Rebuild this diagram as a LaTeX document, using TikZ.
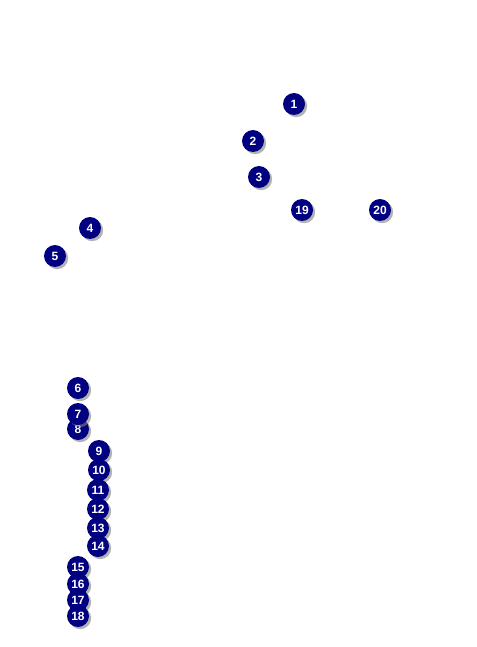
\documentclass[tikz,border=0pt]{standalone}
\usepackage{fontspec}
\setmainfont{Liberation Sans}
\usepackage{xcolor}
\usepackage{tikz}
\usetikzlibrary{shadows}
\definecolor{markblue}{RGB}{0,0,128}

\begin{document}
\begin{tikzpicture}[x=1pt,y=-1pt,
    marker/.style={circle, fill=markblue, minimum size=22pt, inner sep=0pt,
      text=white, font=\fontsize{12}{12}\selectfont\bfseries,
      drop shadow={shadow xshift=2.2pt, shadow yshift=-2.2pt, fill=black!50, opacity=0.6}}]
        \useasboundingbox (0,0) rectangle (476,647);
        % callouts, top group
        \node[marker] (m1) at (294,104) {1};
        \node[marker] (m2) at (253,141) {2};
        \node[marker] (m3) at (259,177) {3};
        \node[marker] (m19) at (302,210) {19};
        \node[marker] (m20) at (380,210) {20};
        \node[marker] (m4) at (90,228) {4};
        \node[marker] (m5) at (55,256) {5};
        % callouts, left column
        \node[marker] (m6) at (78,388) {6};
        \node[marker] (m8) at (78,429) {8};
        \node[marker] (m7) at (78,414) {7};
        \foreach \n/\x/\y in {9/99/451, 10/99/470, 11/98/490, 12/98/509, 13/98/528, 14/98/546,
            15/78/567, 16/78/584, 17/78/600, 18/78/616}
          \node[marker] (m\n) at (\x,\y) {\n};
    \end{tikzpicture}
\end{document}
